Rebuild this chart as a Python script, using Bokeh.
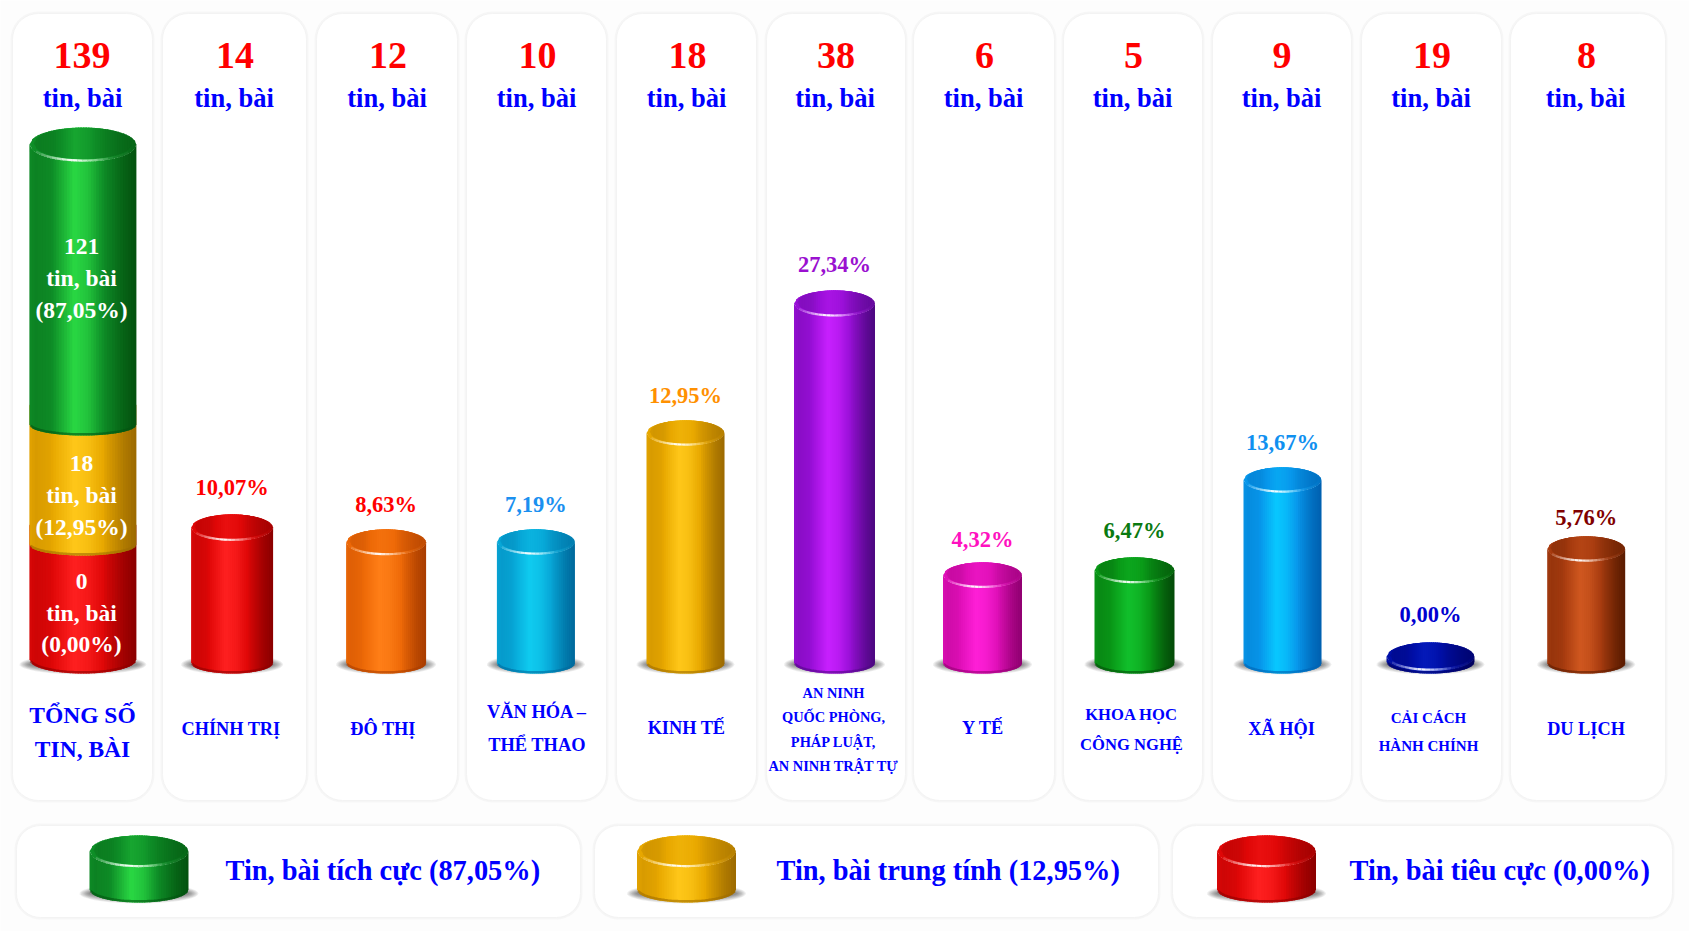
import numpy as np
from bokeh.plotting import figure
from bokeh.models import ColumnDataSource, Range1d
from bokeh.core.properties import value
from bokeh.embed import file_html
from bokeh.resources import INLINE

# ---------------- data ----------------
categories = [["TỔNG SỐ", "TIN, BÀI"], ["CHÍNH TRỊ"], ["ĐÔ THỊ"], ["VĂN HÓA –", "THỂ THAO"], ["KINH TẾ"],
              ["AN NINH", "QUỐC PHÒNG,", "PHÁP LUẬT,", "AN NINH TRẬT TỰ"], ["Y TẾ"],
              ["KHOA HỌC", "CÔNG NGHỆ"], ["XÃ HỘI"], ["CẢI CÁCH", "HÀNH CHÍNH"], ["DU LỊCH"]]
counts = [139, 14, 12, 10, 18, 38, 6, 5, 9, 19, 8]
percents = ["10,07%", "8,63%", "7,19%", "12,95%", "27,34%", "4,32%", "6,47%", "13,67%", "0,00%", "5,76%"]
# heights of the cylinders as drawn in the picture (the picture is not to scale)
drawn_heights = [159, 144, 144, 253, 383, 111, 116, 206, 31, 137]
stack_names = ["Tin, bài tiêu cực", "Tin, bài trung tính", "Tin, bài tích cực"]
stack_counts = [0, 18, 121]
stack_percents = ["0,00%", "12,95%", "87,05%"]
stack_drawn = [118, 120, 308]
legend_drawn = [67, 67, 67]

# ---------------- layout (pixels of the reference) ----------------
W, H = 1689, 931
BASE = 673
panel_l = [12, 162, 316, 466, 616, 766, 913, 1063, 1212, 1361, 1510]
panel_r = [152, 306, 457, 606, 756, 905, 1054, 1202, 1351, 1501, 1665]
centers = [82.4, 231.6, 385.6, 535.4, 685, 834, 982, 1134, 1282, 1430, 1585.7]
widths = [107, 82, 80, 78, 78, 81, 79, 80, 78, 88, 78]
count_x = [81.5, 234.5, 387.5, 537, 687, 835.5, 984, 1133, 1281.5, 1431.5, 1586]
tin_x = [82, 233.5, 386.5, 536, 686, 834.5, 983, 1132, 1281, 1430.5, 1585]
label_gap = [27, 25, 25, 25, 26, 23, 27, 25, 28, 19]
cat_x = [82, 230.5, 382.5, 536.5, 686, 833, 982.5, 1131, 1281, 1428, 1585.5]
cat_y = [[714, 748], [728], [728], [711, 744], [727], [692, 716, 741, 765], [727], [714, 744], [728], [717, 745], [728]]
cat_size = [23.5, 18.3, 18.3, 18.4, 18.3, 14.4, 18.3, 16.6, 18.3, 15, 18.3]
legend_panels = [(16, 580), (594, 1158), (1172, 1672)]
legend_cx = [138.5, 686, 1266]
legend_text_x = [225, 776, 1349]
stack_text_y = [[581, 612, 643], [463, 494, 526], [246, 277, 309]]

# dark, mid, bright
PAL = {"green": ("#04520f", "#0f8f28", "#2ad844"), "gold": ("#9c6a00", "#e8a800", "#ffc81a"),
       "red": ("#8a0000", "#e00808", "#ff2020"), "orange": ("#a83c00", "#ee6a08", "#ff7f18"),
       "cyan": ("#00699c", "#08a8d8", "#10ccf0"), "purple": ("#4c0880", "#9a10d8", "#c820ff"),
       "magenta": ("#900070", "#e010b8", "#ff20d8"), "dkgreen": ("#044a08", "#0a9a18", "#12c02c"),
       "sky": ("#0060b0", "#0898ec", "#08c8ff"), "navy": ("#00005c", "#0010a8", "#1030e0"),
       "brown": ("#5a1c00", "#a83c10", "#d05820")}
bar_pal = ["red", "orange", "cyan", "gold", "purple", "magenta", "dkgreen", "sky", "navy", "brown"]
label_colors = ["#ff0000", "#ff0000", "#1a90f0", "#ff9000", "#9a10d0", "#ff10c0", "#0a7a10", "#1090f0", "#0000d0", "#800000"]
BLUE = "#0000ff"
FONT = value("Liberation Serif")


def yd(img_y):
    return BASE - img_y


def rgb(h):
    return np.array([int(h[i:i + 2], 16) for i in (1, 3, 5)], float)


def shade(pal, level):
    d, m, b = [rgb(c) for c in PAL[pal]]
    c = d + (m - d) * level / 0.5 if level < 0.5 else m + (b - m) * (level - 0.5) / 0.5
    c = np.clip(c, 0, 255).astype(int)
    return "#%02x%02x%02x" % tuple(c)


PROFILE_T = [0, 0.06, 0.2, 0.42, 0.55, 0.72, 0.88, 1]
PROFILE_V = [0.46, 0.4, 0.46, 1.0, 0.85, 0.42, 0.14, 0.0]

p = figure(width=W, height=H, output_backend="svg", toolbar_location=None,
           x_range=Range1d(0, W), y_range=Range1d(yd(H), yd(0)),
           min_border=0, outline_line_color=None, background_fill_color="#fdfdfd", border_fill_color="#fdfdfd")
p.xaxis.visible = False
p.yaxis.visible = False
p.grid.visible = False


def rounded(l, r, t, b, rad=26, n=10):
    xs, ys = [], []
    for cx, cy, a0 in [(r - rad, t - rad, 0), (l + rad, t - rad, 90), (l + rad, b + rad, 180), (r - rad, b + rad, 270)]:
        for a in np.radians(np.linspace(a0, a0 + 90, n)):
            xs.append(cx + rad * np.cos(a))
            ys.append(cy + rad * np.sin(a))
    return xs, ys


# panels
px, py = [], []
for l, r in zip(panel_l, panel_r):
    a, b = rounded(l, r, yd(13), yd(800))
    px.append(a)
    py.append(b)
for l, r in legend_panels:
    a, b = rounded(l, r, yd(825), yd(917), rad=24)
    px.append(a)
    py.append(b)
p.patches(px, py, fill_color="#ffffff", line_color="#e8e8e8", line_alpha=0.3, line_width=4)
p.patches(px, py, fill_color="#ffffff", line_color="#f3f3f3", line_width=1)

# collected polygons, lines
poly_x, poly_y, poly_c = [], [], []
line_x, line_y, line_c, line_a, line_w = [], [], [], [], []
shadow_x, shadow_y = [], []
arc = lambda u: np.sqrt(np.clip(1 - u * u, 0, 1))


def cylinder(cx, width, bottom, height, pal, cap=True, rb_k=0.13, n=40):
    a = width / 2
    rt, rb = 0.16 * width, rb_k * width
    yb = bottom + rb
    yt = bottom + height - rt
    edges = np.linspace(-1, 1, n + 1)
    over = 1.5 / a
    for i in range(n):
        u0, u1 = edges[i], min(1.0, edges[i + 1] + over)
        t = (edges[i] + edges[i + 1]) / 4 + 0.5
        c = shade(pal, float(np.interp(t, PROFILE_T, PROFILE_V)))
        poly_x.append([cx + a * u0, cx + a * u1, cx + a * u1, cx + a * u0])
        poly_y.append([yt - rt * arc(u0), yt - rt * arc(u1), yb - rb * arc(u1), yb - rb * arc(u0)])
        poly_c.append(c)
    # darker lower rim
    us = np.linspace(-0.98, 0.98, 30)
    line_x.append(list(cx + a * us))
    line_y.append(list(yb - rb * arc(us) + 1.2))
    line_c.append(shade(pal, 0.02))
    line_a.append(0.6)
    line_w.append(2.5)
    if not cap:
        return
    # cap: rim then inner disc
    for scale, gain in [(1.0, 0.8), (0.92, 0.5)]:
        for i in range(n):
            ax = a * scale
            over_c = 1.5 / ax
            u0, u1 = edges[i], min(1.0, edges[i + 1] + over_c)
            t = (edges[i] + edges[i + 1]) / 4 + 0.5
            lv = float(np.interp(t, PROFILE_T, PROFILE_V))
            c = shade(pal, min(1, 0.16 + lv * gain))
            ry = rt * scale
            dy = 1.2 if scale < 1 else 0
            poly_x.append([cx + ax * u0, cx + ax * u1, cx + ax * u1, cx + ax * u0])
            poly_y.append([yt + dy + ry * arc(u0), yt + dy + ry * arc(u1), yt + dy - ry * arc(u1), yt + dy - ry * arc(u0)])
            poly_c.append(c)
    # bright highlight on the front rim of the cap
    ang = np.linspace(-0.9, 0.88, 19)
    for i in range(18):
        u0, u1 = ang[i], ang[i + 1]
        m = (u0 + u1) / 2
        line_x.append([cx + a * u0 * 0.97, cx + a * u1 * 0.97])
        line_y.append([yt - rt * 0.93 * arc(u0), yt - rt * 0.93 * arc(u1)])
        line_c.append("#ffffff")
        line_a.append(float(np.clip(1.0 - abs(m + 0.2) * 1.25, 0.04, 0.95)))
        line_w.append(2.2)


def shadow(cx, width, bottom):
    a = width / 2
    th = np.linspace(0, 2 * np.pi, 40)
    for k in np.linspace(1.0, 0.1, 8):
        shadow_x.append(list(cx + (a + 10 * k) * np.cos(th)))
        shadow_y.append(list(bottom + 9 + (4 + 6 * k) * np.sin(th)))


# stacked total column
shadow(centers[0], widths[0], 0)
stack_pal = ["red", "gold", "green"]
cum = 0
for i, (h, sp) in enumerate(zip(stack_drawn, stack_pal)):
    top_seg = i == len(stack_drawn) - 1
    extra = 0 if top_seg else 0.45 * widths[0]
    cylinder(centers[0], widths[0], cum, h + extra, sp, cap=top_seg, rb_k=0.13 if i == 0 else 0.1)
    cum += h

# single cylinders
for cx, w, h, sp in zip(centers[1:], widths[1:], drawn_heights, bar_pal):
    shadow(cx, w, 0)
    cylinder(cx, w, 0, h, sp)

# legend cylinders
for cx, h, sp in zip(legend_cx, legend_drawn, ["green", "gold", "red"]):
    shadow(cx, 99, yd(902))
    cylinder(cx, 99, yd(902), h, sp)

p.patches(shadow_x, shadow_y, fill_color="#000000", fill_alpha=0.065, line_color=None)
src = ColumnDataSource(dict(xs=poly_x, ys=poly_y, c=poly_c))
p.patches("xs", "ys", source=src, fill_color="c", line_color=None)
lsrc = ColumnDataSource(dict(xs=line_x, ys=line_y, c=line_c, a=line_a, w=line_w))
p.multi_line("xs", "ys", source=lsrc, line_color="c", line_alpha="a", line_width="w", line_cap="butt")


def txt(x, y, t, size, color, style="bold"):
    p.text([x], [yd(y)], text=[t], text_font=FONT, text_font_size=f"{size}px", text_font_style=style,
           text_color=color, text_align="center", text_baseline="middle")


# headers
for x1, x2, c in zip(count_x, tin_x, counts):
    txt(x1, 55, str(c), 38, "#ff0000")
    txt(x2, 97.5, "tin, bài", 26.5, BLUE)

# percent labels above cylinders
for cx, h, g, t, c in zip(centers[1:], drawn_heights, label_gap, percents, label_colors):
    txt(cx, BASE - h - g, t, 22.5, c)

# category labels
for x, ys, lines, s in zip(cat_x, cat_y, categories, cat_size):
    for y, l in zip(ys, lines):
        txt(x, y, l, s, BLUE)

# stack labels
for ys, n, pc in zip(stack_text_y, stack_counts, stack_percents):
    for y, l in zip(ys, [str(n), "tin, bài", f"({pc})"]):
        txt(81, y, l, 23.5, "#ffffff")

# legend texts
for x, n, pc in zip(legend_text_x, stack_names[::-1], stack_percents[::-1]):
    p.text([x], [yd(870)], text=[f"{n} ({pc})"], text_font=FONT, text_font_size="28.4px", text_font_style="bold",
           text_color=BLUE, text_align="left", text_baseline="middle")

open("out.html", "w").write(file_html(p, INLINE))
